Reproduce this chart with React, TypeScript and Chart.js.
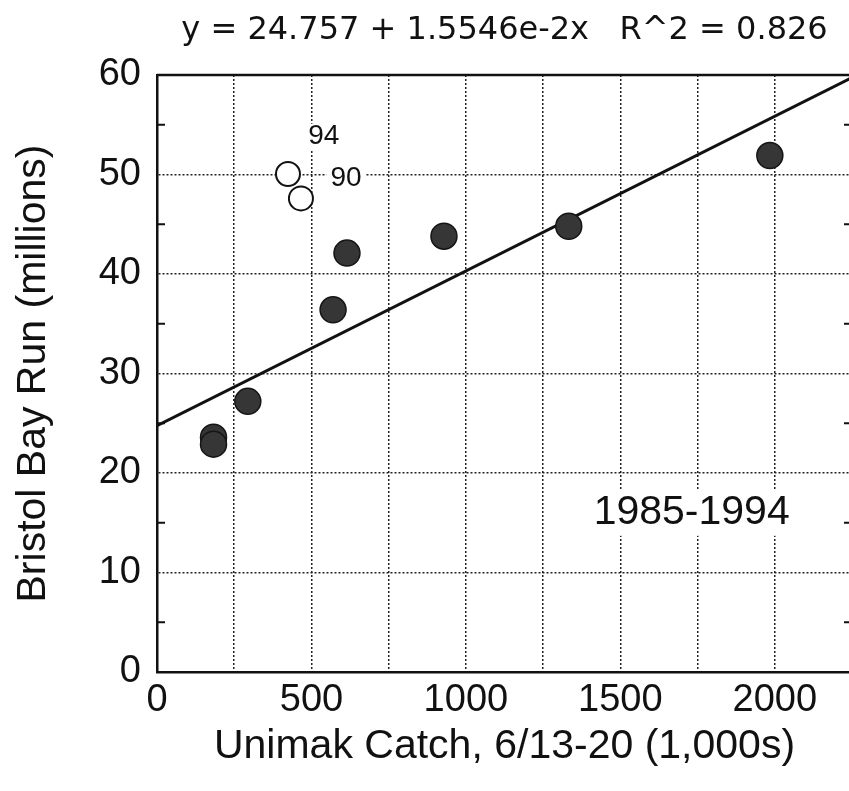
import { useEffect, useRef } from "react";
import { Chart, registerables } from "chart.js";

Chart.register(...registerables);

// Fit line stated in the chart title
const fitIntercept = 24.757;
const fitSlope = 1.5546e-2;
const fitXRange = [0, 2250];

// Filled points (1985-1993, excluding 90)
const filledX = [183, 183, 294, 570, 615, 929, 1333, 1984];
const filledY = [23.6, 22.9, 27.2, 36.4, 42.1, 43.8, 44.8, 51.9];

// Open points (1990, 1994)
const openX = [424, 466];
const openY = [50.05, 47.6];

// Axis ticks
const xTickLabels = [0, 500, 1000, 1500, 2000];
const yMinorTicks = [5, 15, 25, 35, 45, 55];

// Text notes (data coordinates)
const noteTexts = ["94", "90", "1985-1994"];
const noteX = [540, 612, 1731];
const noteY = [53.8, 49.6, 16.0];

const titleText = "y = 24.757 + 1.5546e-2x   R^2 = 0.826";
const xTitle = "Unimak Catch, 6/13-20 (1,000s)";
const yTitle = "Bristol Bay Run (millions)";

const INK = "#111";
const SANS = "'Liberation Sans', Arial, sans-serif";

const overlayPlugin = {
  id: "overlay",
  beforeDatasetsDraw(chart: any) {
    const { ctx, chartArea, scales } = chart;
    const x = scales.x;
    const y = scales.y;
    ctx.save();
    // frame top/right
    ctx.strokeStyle = INK;
    ctx.lineWidth = 2.5;
    ctx.beginPath();
    ctx.moveTo(chartArea.left, chartArea.top);
    ctx.lineTo(chartArea.right, chartArea.top);
    ctx.lineTo(chartArea.right, chartArea.bottom);
    ctx.stroke();
    // minor ticks (inward) on left and right
    ctx.lineWidth = 2;
    ctx.beginPath();
    for (const v of yMinorTicks) {
      const py = y.getPixelForValue(v);
      ctx.moveTo(chartArea.left, py);
      ctx.lineTo(chartArea.left + 8, py);
      ctx.moveTo(chartArea.right, py);
      ctx.lineTo(chartArea.right - 8, py);
    }
    ctx.stroke();
    // notes with white background
    noteTexts.forEach((t, i) => {
      const big = t.length > 3;
      ctx.font = big ? `41px ${SANS}` : `28px ${SANS}`;
      const w = ctx.measureText(t).width;
      const px = x.getPixelForValue(noteX[i]);
      const py = y.getPixelForValue(noteY[i]);
      const padX = big ? 10 : 4;
      const h = big ? 46 : 26;
      ctx.fillStyle = "#fff";
      ctx.fillRect(px - w / 2 - padX, py - h / 2, w + padX * 2, h);
      ctx.fillStyle = INK;
      ctx.textAlign = "center";
      ctx.textBaseline = "middle";
      ctx.fillText(t, px, py);
    });
    ctx.restore();
  },
};

export default function App() {
  const ref = useRef<HTMLCanvasElement | null>(null);

  useEffect(() => {
    if (!ref.current) return;
    const fitData = fitXRange.map((xv) => ({ x: xv, y: fitIntercept + fitSlope * xv }));
    const chart = new Chart(ref.current, {
      type: "scatter",
      data: {
        datasets: [
          {
            label: "filled",
            data: filledX.map((xv, i) => ({ x: xv, y: filledY[i] })),
            backgroundColor: "#363636",
            borderColor: "#151515",
            borderWidth: 1.5,
            pointRadius: 13,
            order: 1,
          },
          {
            label: "open",
            data: openX.map((xv, i) => ({ x: xv, y: openY[i] })),
            backgroundColor: "#fff",
            borderColor: INK,
            borderWidth: 2,
            pointRadius: 12,
            order: 1,
          },
          {
            label: "fit",
            data: fitData,
            showLine: true,
            borderColor: INK,
            borderWidth: 3,
            pointRadius: 0,
            order: 2,
          } as any,
        ],
      },
      options: {
        animation: false,
        responsive: false,
        layout: { autoPadding: false, padding: { left: 0, right: 0, top: 0, bottom: 0 } },
        plugins: {
          legend: { display: false },
          tooltip: { enabled: false },
          title: {
            display: true,
            text: titleText,
            fullSize: false,
            color: INK,
            font: { family: "'DejaVu Sans', sans-serif", size: 32, weight: "normal" },
            padding: { top: 11, bottom: 25.6 },
          },
        },
        scales: {
          x: {
            type: "linear",
            min: 0,
            max: 2250,
            afterFit: (s: any) => {
              s.height = 119;
            },
            ticks: {
              stepSize: 250,
              autoSkip: false,
              maxRotation: 0,
              padding: 6,
              color: INK,
              font: { family: SANS, size: 38 },
              callback: (v: any) => (xTickLabels.includes(Number(v)) ? String(v) : ""),
            },
            grid: { color: "#222", lineWidth: 1.5, drawTicks: false },
            border: { color: INK, width: 2.5, dash: [2, 2] },
            title: {
              display: true,
              text: xTitle,
              color: INK,
              font: { family: SANS, size: 41 },
              padding: { top: 0, bottom: 20 },
            },
          },
          y: {
            type: "linear",
            min: 0,
            max: 60,
            afterFit: (s: any) => {
              s.width = 157;
            },
            ticks: {
              stepSize: 10,
              padding: 16,
              color: INK,
              font: { family: SANS, size: 38 },
            },
            grid: { color: "#222", lineWidth: 1.5, drawTicks: false },
            border: { color: INK, width: 2.5, dash: [2, 2] },
            title: {
              display: true,
              text: yTitle,
              color: INK,
              font: { family: SANS, size: 41 },
              padding: { top: 9, bottom: 0 },
            },
          },
        },
      },
      plugins: [overlayPlugin],
    });
    return () => chart.destroy();
  }, []);

  return (
    <div
      style={{
        position: "absolute",
        left: 0,
        top: 0,
        width: 849,
        height: 791,
        overflow: "hidden",
        background: "#fff",
      }}
    >
      <canvas ref={ref} width={858} height={791} style={{ display: "block" }} />
    </div>
  );
}
